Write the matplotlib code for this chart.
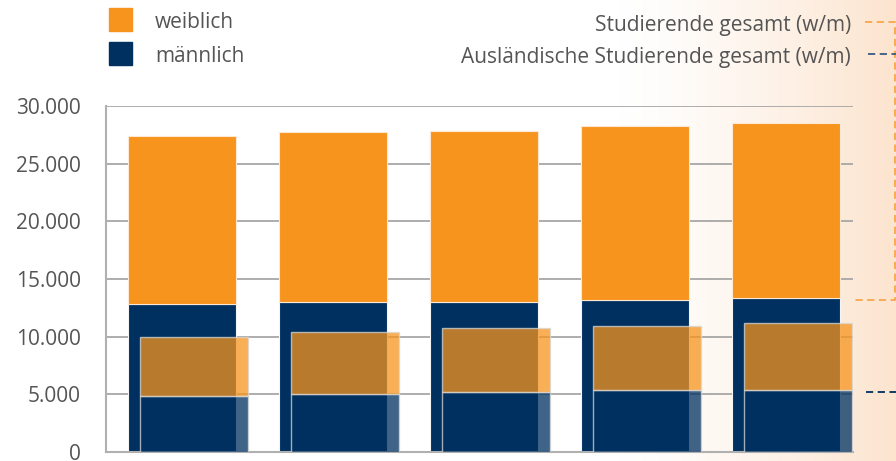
import numpy as np
import matplotlib
matplotlib.use("Agg")
import matplotlib.pyplot as plt
from matplotlib.patches import Rectangle
from matplotlib.lines import Line2D

plt.rcParams['font.family'] = ['Open Sans', 'DejaVu Sans']

# Studierende gesamt (Männer / Gesamt) je Jahr
total_maennlich = [12800, 13000, 13030, 13180, 13380]
total_gesamt = [27400, 27780, 27860, 28270, 28550]
# Ausländische Studierende (Männer / Gesamt)
ausl_maennlich = [4830, 5030, 5180, 5350, 5380]
ausl_gesamt = [9940, 10430, 10720, 10950, 11210]

yticks = [0, 5000, 10000, 15000, 20000, 25000, 30000]
ytick_labels = ['0', '5.000', '10.000', '15.000', '20.000', '25.000', '30.000']

ORANGE = '#F7941D'
NAVY = '#003060'
TEXT = '#555555'
GRID = '#a0a0a0'

W, H = 896, 461
fig = plt.figure(figsize=(W / 100, H / 100), dpi=100)

# background gradient (white -> peach on the right)
bg = fig.add_axes([0, 0, 1, 1], zorder=-10)
xs = np.linspace(0, 1, W)
t = np.clip((xs * W - 620) / (W - 620), 0, 1) ** 1.3
peach = np.array([252, 228, 206]) / 255
white = np.array([1.0, 1.0, 1.0])
row = white[None, :] * (1 - t[:, None]) + peach[None, :] * t[:, None]
bg.imshow(row[None, :, :], aspect='auto', extent=[0, 1, 0, 1])
bg.set_axis_off()

ax = fig.add_axes([106 / W, (H - 452) / H, (853 - 106) / W, (452 - 106) / H])
ax.set_facecolor('none')

x = np.arange(len(total_gesamt))
width = 0.715
shift = 12 / 151
weiblich = np.array(total_gesamt) - np.array(total_maennlich)
ausl_weiblich = np.array(ausl_gesamt) - np.array(ausl_maennlich)

ax.bar(x, total_maennlich, width, color=NAVY, edgecolor='#f4f4f4', linewidth=0.8, zorder=2)
ax.bar(x, weiblich, width, bottom=total_maennlich, color=ORANGE,
       edgecolor='#fde9d3', linewidth=0.8, zorder=2)

ax.bar(x + shift, ausl_maennlich, width, color=NAVY, alpha=0.75,
       edgecolor='#d8d8d8', linewidth=1.0, zorder=3)
ax.bar(x + shift, ausl_weiblich, width, bottom=ausl_maennlich, color=ORANGE,
       alpha=0.75, edgecolor='#d8d8d8', linewidth=1.0, zorder=3)

ax.set_xlim(-0.503, 4.444)
ax.set_ylim(0, 30000)
ax.set_yticks(yticks)
ax.set_yticklabels(ytick_labels)
ax.yaxis.grid(True, color=GRID, linewidth=1.2)
ax.set_axisbelow(True)
ax.tick_params(axis='y', length=0, pad=18, labelsize=15, labelcolor=TEXT)
ax.set_xticks(x + shift)
ax.set_xticklabels([])
ax.tick_params(axis='x', direction='in', length=5, width=0.8, color='#444444')
for side in ['top', 'right']:
    ax.spines[side].set_visible(False)
for side in ['left', 'bottom']:
    ax.spines[side].set_color('#b0b0b0')
    ax.spines[side].set_linewidth(1.5)

# legend
for yy, col, lab in [(8, ORANGE, 'weiblich'), (42, NAVY, 'männlich')]:
    fig.add_artist(Rectangle((109 / W, 1 - (yy + 23) / H), 23 / W, 23 / H,
                             transform=fig.transFigure, color=col))
    fig.text(155 / W, 1 - (yy + 14) / H, lab, fontsize=15, color=TEXT,
             va='center', ha='left')

fig.text(851 / W, 1 - 25 / H, 'Studierende gesamt (w/m)', fontsize=15,
         color=TEXT, va='center', ha='right')
fig.text(851 / W, 1 - 58 / H, 'Ausländische Studierende gesamt (w/m)', fontsize=15,
         color=TEXT, va='center', ha='right')

def px_line(xp, yp, col):
    fig.add_artist(Line2D([v / W for v in xp], [1 - v / H for v in yp],
                          transform=fig.transFigure, color=col, linewidth=1.3,
                          dashes=(4, 2.5)))

px_line([865, 895, 895, 853], [22.5, 22.5, 300, 300], '#F9A54A')
px_line([868, 897], [54, 54], '#3a5a80')
px_line([866, 897], [392, 392], NAVY)

fig.savefig('out.png', dpi=100)
